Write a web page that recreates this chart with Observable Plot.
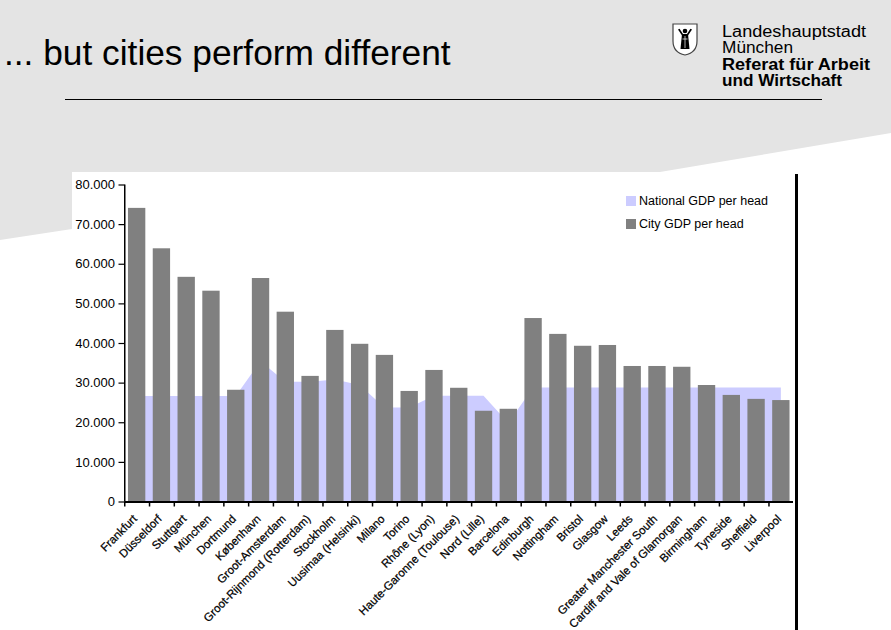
<!DOCTYPE html>
<html>
<head>
<meta charset="utf-8">
<script src="https://cdn.jsdelivr.net/npm/d3@7"></script>
<script src="https://cdn.jsdelivr.net/npm/@observablehq/plot@0.6"></script>
<style>
  html, body { margin: 0; padding: 0; background: #fff; }
  #page { position: relative; width: 891px; height: 630px; overflow: hidden; font-family: "Liberation Sans", Arial, sans-serif; }
  #backdrop { position: absolute; left: 0; top: 0; width: 891px; height: 630px; background: #e4e4e4;
    clip-path: polygon(0 0, 891px 0, 891px 133px, 660px 172px, 72px 229px, 0 240px); }
  #header { position: absolute; left: 0; top: 0; }
  #chart { position: absolute; left: 72px; top: 172px; width: 725px; height: 458px; background: #fff; }
  #edge { position: absolute; left: 795px; top: 174px; width: 3px; height: 456px; background: #000; }
  #legend { position: absolute; left: 626px; top: 189px; font-size: 12.5px; color: #000; }
  #legend div { display: flex; align-items: center; height: 23px; }
  #legend span.sw { width: 10px; height: 10px; margin-right: 3px; display: inline-block; }
</style>
</head>
<body>
<div id="page">
  <div id="backdrop"></div>
  <svg id="header" width="891" height="110" font-family="Liberation Sans, Arial, sans-serif">
    <text x="4" y="65" font-size="35.3" fill="#000">... but cities perform different</text>
    <line x1="65" y1="99.5" x2="822" y2="99.5" stroke="#000" stroke-width="1"/>
    <!-- city coat of arms -->
    <g transform="translate(672,23)">
      <path d="M1,1 H25 V18 Q25,29.5 13,32 Q1,29.5 1,18 Z" fill="#fff" stroke="#444" stroke-width="1.2"/>
      <circle cx="13" cy="8" r="2.3" fill="#000"/>
      <path d="M10,11 H16 L17.5,26 H8.5 Z" fill="#000"/>
      <path d="M10,12.5 L6,6.5 L7.6,5.8 L11,11 Z" fill="#000"/>
      <path d="M16,12.5 L20,6.5 L18.4,5.8 L15,11 Z" fill="#000"/>
      <line x1="13" y1="13" x2="13" y2="25" stroke="#fff" stroke-width="0.7"/>
      <line x1="10.5" y1="16" x2="15.5" y2="16" stroke="#fff" stroke-width="0.7"/>
    </g>
    <text x="722" y="37" font-size="16" textLength="144" lengthAdjust="spacingAndGlyphs" fill="#000">Landeshauptstadt</text>
    <text x="722" y="53" font-size="16" textLength="71" lengthAdjust="spacingAndGlyphs" fill="#000">München</text>
    <text x="722" y="69.5" font-size="16" font-weight="bold" textLength="148" lengthAdjust="spacingAndGlyphs" fill="#000">Referat für Arbeit</text>
    <text x="722" y="86" font-size="16" font-weight="bold" textLength="120" lengthAdjust="spacingAndGlyphs" fill="#000">und Wirtschaft</text>
  </svg>
  <div id="chart"></div>
  <div id="edge"></div>
  <div id="legend"></div>
</div>
<script>
// Regions and their GDP per head
const cities = [
  "Frankfurt", "Düsseldorf", "Stuttgart", "München", "Dortmund", "København",
  "Groot-Amsterdam", "Groot-Rijnmond (Rotterdam)", "Stockholm", "Uusimaa (Helsinki)",
  "Milano", "Torino", "Rhône (Lyon)", "Haute-Garonne (Toulouse)", "Nord (Lille)",
  "Barcelona", "Edinburgh", "Nottingham", "Bristol", "Glasgow", "Leeds",
  "Greater Manchester South", "Cardiff and Vale of Glamorgan", "Birmingham",
  "Tyneside", "Sheffield", "Liverpool"
];
const cityGdp = [
  74100, 63900, 56700, 53200, 28200, 56400,
  47900, 31700, 43300, 39800,
  37000, 27900, 33200, 28700, 22900,
  23400, 46300, 42300, 39300, 39500, 34200,
  34200, 34000, 29400,
  26900, 25900, 25600
];
const nationalGdp = [
  26600, 26600, 26600, 26600, 26600, 35400,
  30200, 30200, 30800, 29400,
  23700, 23700, 26700, 26700, 26700,
  19800, 28800, 28800, 28800, 28800, 28800,
  28800, 28800, 28800,
  28800, 28800, 28800
];
const yTicks = [0, 10000, 20000, 30000, 40000, 50000, 60000, 70000, 80000];
const seriesNames = ["National GDP per head", "City GDP per head"];
const seriesColors = ["#ccccff", "#808080"];

const rows = cities.map((city, i) => ({city, cityGdp: cityGdp[i], national: nationalGdp[i]}));

const de = d3.formatLocale({decimal: ",", thousands: ".", grouping: [3], currency: ["", "€"]});
const fmt = de.format(",.0f");

const width = 725, height = 458;
const marginLeft = 52.5, marginRight = 4, marginTop = 12.5, marginBottom = 128.5;
const padInner = 0.3, padOuter = 0.14;
const step = (width - marginLeft - marginRight) / (cities.length - padInner + 2 * padOuter);

const chart = Plot.plot({
  width, height, marginLeft, marginRight, marginTop, marginBottom,
  style: {fontFamily: "Liberation Sans, Arial, sans-serif", color: "#000", background: "transparent"},
  x: {type: "band", domain: cities, paddingInner: padInner, paddingOuter: padOuter, round: false, axis: null},
  y: {domain: [0, 80000], axis: null},
  marks: [
    Plot.areaY(rows, {x: "city", y: "national", fill: seriesColors[0], curve: "linear"}),
    Plot.barY(rows, {x: "city", y: "cityGdp", fill: seriesColors[1]}),
    Plot.ruleY([0], {stroke: "#000", strokeWidth: 2}),
    Plot.ruleX(cities.slice(0, 1), {x: d => d, y1: 0, y2: 80000, dx: -step / 2, stroke: "#000", strokeWidth: 1.5}),
    Plot.ruleX(cities, {x: d => d, y1: 0, y2: 0, dx: -step / 2, insetBottom: -5, stroke: "#000", strokeWidth: 1.5}),
    Plot.axisY({ticks: yTicks, tickFormat: fmt, tickSize: 6, tickPadding: 4, fontSize: 13, label: null, strokeWidth: 1.2}),
    Plot.text(cities, {x: d => d, y: 0, text: d => d, rotate: -45, textAnchor: "end", dx: -2, dy: 15,
      fontSize: 11.5, fill: "#000", stroke: "#000", strokeWidth: 0.25})
  ]
});
document.getElementById("chart").appendChild(chart);

const legend = document.getElementById("legend");
seriesNames.forEach((name, i) => {
  const row = document.createElement("div");
  const sw = document.createElement("span");
  sw.className = "sw";
  sw.style.background = seriesColors[i];
  row.appendChild(sw);
  row.appendChild(document.createTextNode(name));
  legend.appendChild(row);
});
</script>
</body>
</html>
